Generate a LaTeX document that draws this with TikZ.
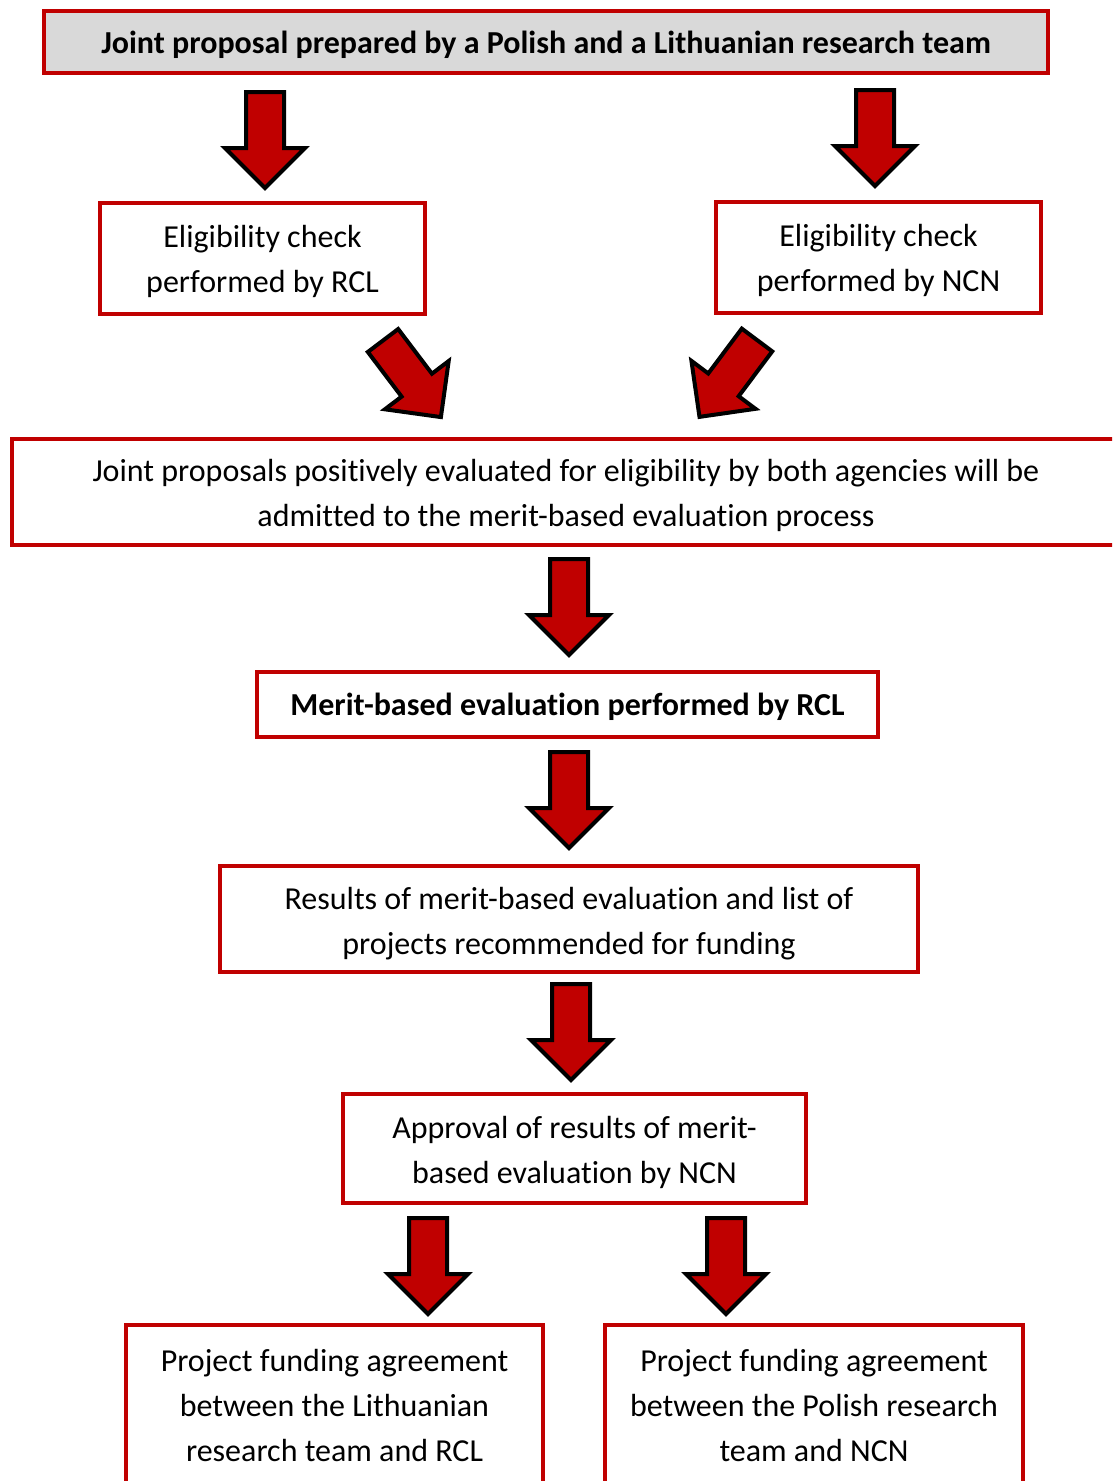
\documentclass[tikz,border=0pt]{standalone}
\usepackage{fontspec}
\setmainfont{Carlito}[Ligatures=CommonOff]
\definecolor{boxred}{RGB}{192,0,0}
\definecolor{arrred}{RGB}{192,0,0}
\definecolor{titlegray}{RGB}{217,217,217}
\tikzset{
  box/.style={draw=boxred, line width=3.5pt, inner sep=0pt},
  txt/.style={align=center, inner sep=0pt, font=\fontsize{32}{45}\selectfont},
  btxt/.style={txt, font=\fontsize{32}{45}\selectfont\bfseries},
  pics/blockarr/.style={code={
    \draw[line width=4pt, fill=arrred, line join=miter]
      (-19,0) -- (19,0) -- (19,56) -- (40,56) -- (0,96) -- (-40,56) -- (-19,56) -- cycle;}}
}
\begin{document}
\begin{tikzpicture}[x=1pt,y=-1pt]
\useasboundingbox (0,0) rectangle (1112,1481);
\clip (0,0) rectangle (1112,1481);
% boxes
\node[box, fill=titlegray, minimum width=1004, minimum height=62] (title) at (546,42) {};
\node[box, minimum width=325, minimum height=111] (rcl) at (262.5,258.5) {};
\node[box, minimum width=325, minimum height=111] (ncn) at (878.5,257.5) {};
\node[box, minimum width=1108, minimum height=106] (joint) at (566,492) {};
\node[box, minimum width=621, minimum height=65] (merit) at (567.5,704.5) {};
\node[box, minimum width=698, minimum height=106] (results) at (569,919) {};
\node[box, minimum width=463, minimum height=109] (approval) at (574.5,1148.5) {};
\node[box, minimum width=417, minimum height=160] (agrL) at (334.5,1405) {};
\node[box, minimum width=418, minimum height=160] (agrR) at (814,1405) {};
% texts
\node[btxt] (title-t) at ([yshift=-3pt]title.center)
  {Joint proposal prepared by a Polish and a Lithuanian research team};
\node[txt] (rcl-t) at ([yshift=-2.5pt]rcl.center) {Eligibility check\\performed by RCL};
\node[txt] (ncn-t) at ([yshift=-2.5pt]ncn.center) {Eligibility check\\performed by NCN};
\node[txt] (joint-t) at ([yshift=-3pt]joint.center)
  {Joint proposals positively evaluated for eligibility by both agencies will be\\admitted to the merit-based evaluation process};
\node[btxt] (merit-t) at ([yshift=-2pt]merit.center) {Merit-based evaluation performed by RCL};
\node[txt] (results-t) at ([yshift=-4.5pt]results.center)
  {Results of merit-based evaluation and list of\\projects recommended for funding};
\node[txt] (approval-t) at ([yshift=-3.5pt]approval.center)
  {Approval of results of merit-\\based evaluation by NCN};
\node[txt] (agrL-t) at (agrL.center)
  {Project funding agreement\\between the Lithuanian\\research team and RCL};
\node[txt] (agrR-t) at (agrR.center)
  {Project funding agreement\\between the Polish research\\team and NCN};
% block arrows
\pic at (265,92) {blockarr};
\pic at (875,90) {blockarr};
\pic[rotate=37.1] at (383,340.5) {blockarr};
\pic[rotate=-36.8] at (757,340) {blockarr};
\pic at (569,559) {blockarr};
\pic at (569,752) {blockarr};
\pic at (571,984) {blockarr};
\pic at (428,1218) {blockarr};
\pic at (726,1218) {blockarr};
\end{tikzpicture}
\end{document}
